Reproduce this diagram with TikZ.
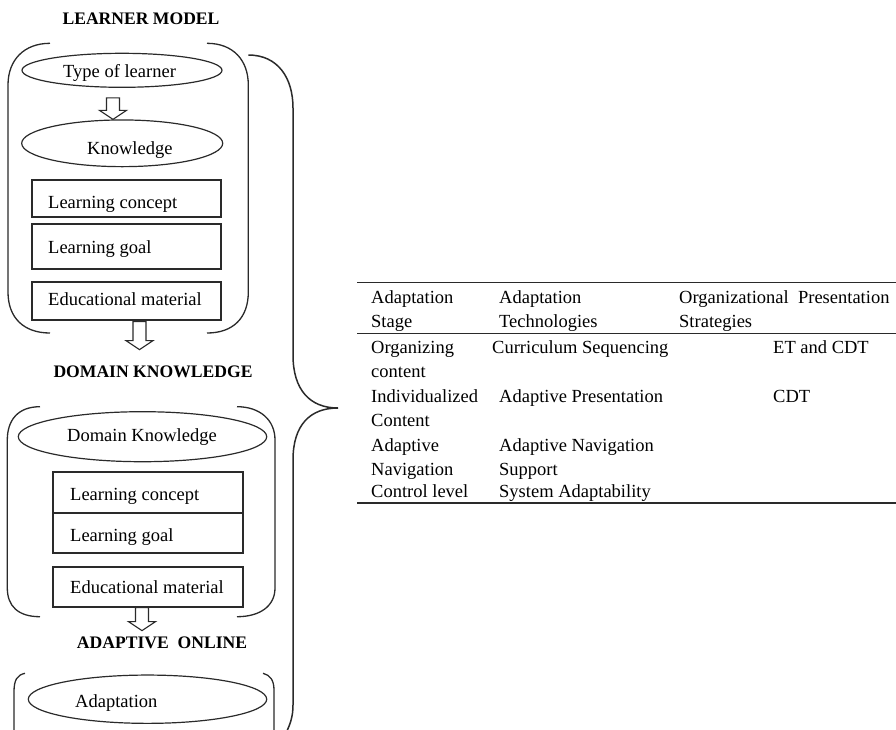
\documentclass[tikz,border=0pt]{standalone}
\usepackage{fontspec}
\setmainfont{Liberation Serif}
\usetikzlibrary{calc,shapes.geometric}
\definecolor{lc}{HTML}{2A2A2A}
\newcommand\hollowarr[2]{\path[harrow] let \p1=(#1),\p2=(#2) in (\x1-6.5pt,\y1) -- (\x1+6.5pt,\y1) -- (\x1+6.5pt,\y2+9pt) -- (\x1+13.5pt,\y2+9pt) -- (\x1,\y2) -- (\x1-13.5pt,\y2+9pt) -- (\x1-6.5pt,\y2+9pt) -- cycle;}
\begin{document}
\begin{tikzpicture}[x=1pt,y=-1pt,
  ell/.style={ellipse, draw=lc, line width=1.2pt, inner sep=0pt},
  bx/.style={rectangle, draw=lc, line width=1.2pt, inner sep=0pt},
  txt/.style={font=\fontsize{18.5}{22}\selectfont, inner sep=0pt, anchor=base west, text=black},
  ttl/.style={font=\bfseries\fontsize{17.6}{21}\selectfont, inner sep=0pt, anchor=base, text=black},
  brk/.style={draw=lc, line width=1.3pt},
  bigbrace/.style={draw=lc, line width=1.5pt},
  rule/.style={draw=lc, line width=1.3pt},
  harrow/.style={draw=lc, line width=1.1pt, fill=white, line join=miter}]
\useasboundingbox (0,0) rectangle (896,729);

% ---------- Learner model ----------
\node[ttl] (t1) at (141,24) {LEARNER MODEL};
\node[ell, minimum width=200pt, minimum height=34pt] (tol) at (122,70.3) {};
\node[txt] (toltxt) at (63,77) {Type of learner};
\node[ell, minimum width=201pt, minimum height=46.7pt] (know) at (122.2,143.3) {};
\node[txt] (knowtxt) at (87,154) {Knowledge};
\node[bx, minimum width=189pt, minimum height=37pt] (lc1) at (126.5,198.5) {};
\node[txt] (lc1t) at (48,208) {Learning concept};
\node[bx, minimum width=189pt, minimum height=45pt] (lg1) at (126.5,246.5) {};
\node[txt] (lg1t) at (48,253) {Learning goal};
\node[bx, minimum width=189pt, minimum height=38pt] (em1) at (126.5,301) {};
\node[txt] (em1t) at (48,305) {Educational material};

\draw[brk] (50,43.3) .. controls (24,43.3) and (8,60) .. (8,85) -- (8,292) .. controls (8,318) and (24,333) .. (50,333);
\draw[brk] (207,43.3) .. controls (233,43.3) and (248.3,60) .. (248.3,85) -- (248.3,292) .. controls (248.3,318) and (233,333) .. (207,333);

\coordinate (a1s) at ($(tol.south)+(-9,10)$);
\coordinate (a1e) at ($(know.north)+(-9,0)$);
\hollowarr{a1s}{a1e}
\coordinate (a2s) at ($(em1.south)+(13,1)$);
\coordinate (a2e) at ($(em1.south)+(13,29)$);
\hollowarr{a2s}{a2e}

% ---------- Domain knowledge ----------
\node[ttl] (t2) at (153,377) {DOMAIN KNOWLEDGE};
\node[ell, minimum width=248.4pt, minimum height=50pt] (dk) at (142.5,436.7) {};
\node[txt] (dkt) at (67,441.7) {Domain Knowledge};
\node[bx, minimum width=190pt, minimum height=41pt] (lc2) at (148,492.5) {};
\node[txt] (lc2t) at (70,500.7) {Learning concept};
\node[bx, minimum width=190pt, minimum height=40pt] (lg2) at (148,533) {};
\node[txt] (lg2t) at (70,541) {Learning goal};
\node[bx, minimum width=190pt, minimum height=40pt] (em2) at (148,587) {};
\node[txt] (em2t) at (70,593) {Educational material};

\draw[brk] (40,406.7) .. controls (18,406.7) and (7.3,420) .. (7.3,440) -- (7.3,588) .. controls (7.3,606) and (18,616.7) .. (40,616.7);
\draw[brk] (237,406.7) .. controls (260,406.7) and (275,420) .. (275,440) -- (275,588) .. controls (275,606) and (260,616.7) .. (237,616.7);

\coordinate (a3s) at ($(em2.south)+(-6,0)$);
\coordinate (a3e) at ($(em2.south)+(-6,23)$);
\hollowarr{a3s}{a3e}

% ---------- Adaptive online ----------
\node[ttl] (t3) at (162,648) {ADAPTIVE\ \ ONLINE};
\node[ell, minimum width=238.4pt, minimum height=48.3pt] (adp) at (147.5,699.2) {};
\node[txt] (adpt) at (75,707) {Adaptation};
\draw[brk] (25,673.3) .. controls (17,675) and (14,680) .. (14,692) -- (14,732);
\draw[brk] (263,673.3) .. controls (270,675) and (274,680) .. (274,690) -- (274,732);

% ---------- big brace ----------
\draw[bigbrace] (248.3,55) .. controls (278,55) and (293,78) .. (293,108) -- (293,355)
  .. controls (293,390) and (310,408) .. (338,408)
  .. controls (310,408) and (293,425) .. (293,460) -- (293,705)
  .. controls (293,717) and (290,724) .. (287,731);

% ---------- table ----------
\coordinate (r1a) at (357,282.5); \coordinate (r1b) at (897,282.5);
\coordinate (r2a) at (357,333.3); \coordinate (r2b) at (897,333.3);
\coordinate (r3a) at (357,503);   \coordinate (r3b) at (897,503);
\draw[rule] (r1a) -- (r1b);
\draw[rule] (r2a) -- (r2b);
\draw[rule] (r3a) -- (r3b);

\node[txt] (c1a) at (371,303) {Adaptation};
\node[txt] (c1b) at (371,327.5) {Stage};
\node[txt] (c1c) at (371,353) {Organizing};
\node[txt] (c1d) at (371,377.5) {content};
\node[txt] (c1e) at (371,402) {Individualized};
\node[txt] (c1f) at (371,426.5) {Content};
\node[txt] (c1g) at (371,451) {Adaptive};
\node[txt] (c1h) at (371,475) {Navigation};
\node[txt] (c1i) at (371,497.5) {Control level};

\node[txt] (c2a) at (499,303) {Adaptation};
\node[txt] (c2b) at (499,327.5) {Technologies};
\node[txt] (c2c) at (492,353) {Curriculum Sequencing};
\node[txt] (c2e) at (499,402) {Adaptive Presentation};
\node[txt] (c2g) at (499,451) {Adaptive Navigation};
\node[txt] (c2h) at (499,475) {Support};
\node[txt] (c2i) at (499,497.5) {System Adaptability};

\node[txt] (c3a) at (679,303) {Organizational\ \ Presentation};
\node[txt] (c3b) at (679,327.5) {Strategies};
\node[txt] (c4c) at (773,353) {ET and CDT};
\node[txt] (c4e) at (773,402) {CDT};
\end{tikzpicture}
\end{document}
